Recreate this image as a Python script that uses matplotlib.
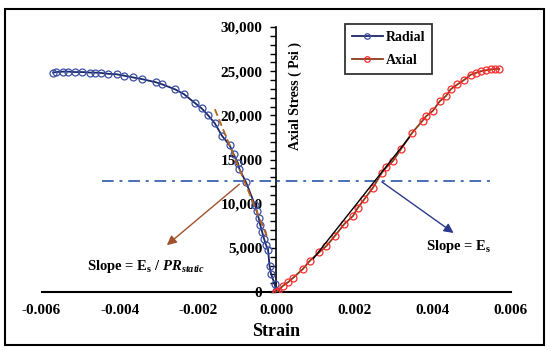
import matplotlib
matplotlib.use("Agg")
import matplotlib.pyplot as plt
from matplotlib.patches import Rectangle
from matplotlib.ticker import MultipleLocator, FuncFormatter

plt.rcParams['font.family'] = 'Liberation Serif'
plt.rcParams['font.weight'] = 'bold'
plt.rcParams['mathtext.fontset'] = 'custom'
plt.rcParams['mathtext.rm'] = 'Liberation Serif:bold'
plt.rcParams['mathtext.it'] = 'Liberation Serif:bold:italic'
plt.rcParams['mathtext.bf'] = 'Liberation Serif:bold'

# strain (x 1e-3) and axial stress (x 1000 psi)
radial_strain = [-5.70, -5.63, -5.44, -5.33, -5.15, -4.96, -4.76, -4.64, -4.49, -4.29,
                 -4.08, -3.90, -3.67, -3.43, -3.08, -2.91, -2.59, -2.36, -2.08, -1.91,
                 -1.74, -1.57, -1.39, -1.19, -1.09, -0.98, -0.94, -0.77, -0.55, -0.50,
                 -0.45, -0.41, -0.36, -0.31, -0.26, -0.21, -0.17, -0.13, -0.04, 0.0]
radial_stress = [24.84, 24.90, 24.95, 24.95, 24.90, 24.90, 24.84, 24.84, 24.80, 24.70,
                 24.65, 24.50, 24.30, 24.10, 23.75, 23.50, 22.95, 22.40, 21.40, 20.80,
                 20.00, 19.10, 17.70, 16.60, 15.60, 14.60, 13.90, 12.40, 9.90, 9.20,
                 8.40, 7.60, 6.80, 6.00, 5.30, 4.80, 2.90, 2.00, 0.90, 0.10]

axial_strain = [0.0, 0.04, 0.17, 0.30, 0.43, 0.68, 0.85, 1.10, 1.28, 1.49,
                1.74, 1.96, 2.08, 2.25, 2.47, 2.70, 2.81, 2.98, 3.19, 3.47,
                3.74, 3.83, 4.00, 4.18, 4.34, 4.46, 4.63, 4.80, 4.97, 5.10,
                5.23, 5.36, 5.48, 5.60, 5.70]
axial_stress = [0.0, 0.1, 0.7, 1.1, 1.6, 2.6, 3.5, 4.5, 5.2, 6.3,
                7.7, 8.6, 9.5, 10.5, 11.8, 13.5, 14.1, 14.8, 16.2, 18.0,
                19.4, 19.9, 20.5, 21.6, 22.2, 22.95, 23.5, 24.0, 24.6, 24.8,
                25.0, 25.1, 25.2, 25.25, 25.25]

# fitted slopes and the 50% stress level
axial_fit_strain = [0.95, 3.40]
axial_fit_stress = [3.8, 17.5]
radial_fit_strain = [-1.57, -0.21]
radial_fit_stress = [20.7, 6.0]
half_level = 12.6
half_strain = [-4.46, 5.48]

rx = [v * 1e-3 for v in radial_strain]
ry = [v * 1e3 for v in radial_stress]
axx = [v * 1e-3 for v in axial_strain]
axy = [v * 1e3 for v in axial_stress]

fig = plt.figure(figsize=(5.5, 3.51), dpi=100)
ax = fig.add_axes([41.5 / 550, 59 / 351, 469.5 / 550, 265 / 351])

ax.plot([v * 1e-3 for v in half_strain], [half_level * 1e3] * 2, color='#4a6fb5',
        lw=1.4, dashes=(6, 3, 1.5, 3), zorder=1)

ax.plot(rx, ry, color='#1c2766', lw=1.3, marker='o', ms=5, mfc='none',
        mec='#3b4fa3', mew=0.9, label='Radial', zorder=3)
ax.plot(axx, axy, color='#8b3a1a', lw=1.3, marker='o', ms=5, mfc='none',
        mec='#ff2a2a', mew=0.9, label='Axial', zorder=3)

ax.plot([v * 1e-3 for v in axial_fit_strain], [v * 1e3 for v in axial_fit_stress],
        color='black', lw=1.0, zorder=4)
ax.plot([v * 1e-3 for v in radial_fit_strain], [v * 1e3 for v in radial_fit_stress],
        color='#b5651d', lw=1.3, dashes=(4, 2), zorder=4)

ax.annotate('', xy=(-2.85e-3, 5100), xytext=(-0.89e-3, 12400),
            arrowprops=dict(arrowstyle='-|>', color='#a0522d', lw=1.0,
                            mutation_scale=14))
ax.annotate('', xy=(4.59e-3, 6500), xytext=(2.64e-3, 12650),
            arrowprops=dict(arrowstyle='-|>', color='#2b3a8c', lw=1.0,
                            mutation_scale=14))

ax.text(-3.32e-3, 2900, r'Slope = E$_\mathrm{s}$ / $\mathit{PR}_{\mathit{static}}$',
        fontsize=10.5, ha='center', va='center')
ax.text(4.65e-3, 5200, r'Slope = E$_\mathrm{s}$', fontsize=10.5,
        ha='center', va='center')

ax.set_xlim(-0.006, 0.006)
ax.set_ylim(0, 30000)
ax.spines['left'].set_position(('data', 0))
ax.spines['top'].set_visible(False)
ax.spines['right'].set_visible(False)
ax.spines['bottom'].set_linewidth(1.5)
ax.spines['left'].set_linewidth(1.2)

ax.xaxis.set_major_locator(MultipleLocator(0.002))
ax.xaxis.set_major_formatter(FuncFormatter(lambda v, p: f'{v:.3f}'))
ax.yaxis.set_major_locator(MultipleLocator(5000))
ax.yaxis.set_minor_locator(MultipleLocator(1000))
ax.yaxis.set_major_formatter(FuncFormatter(lambda v, p: f'{int(v):,}'))
ax.tick_params(axis='x', length=0, pad=9, labelsize=11)
ax.tick_params(axis='y', which='both', direction='out', length=4, width=1.0,
               labelsize=11, pad=6)

ax.set_xlabel('Strain', fontsize=13, fontweight='bold', labelpad=4)
ax.text(0.54, 0.74, 'Axial Stress ( Psi )', transform=ax.transAxes, rotation=90,
        fontsize=10, ha='center', va='center')

leg = ax.legend(loc='upper left', bbox_to_anchor=(0.647, 1.011), fancybox=False,
                edgecolor='black', fontsize=10, handlelength=2.2, markerscale=0.8,
                borderpad=0.5, labelspacing=0.7, handletextpad=0.2,
                borderaxespad=0)
leg.get_frame().set_linewidth(1.3)

fig.patches.append(Rectangle((5 / 550, 6 / 351), 539 / 550, 336 / 351,
                             transform=fig.transFigure, fill=False,
                             edgecolor='black', lw=1.5))

fig.savefig('out.png', dpi=100)
